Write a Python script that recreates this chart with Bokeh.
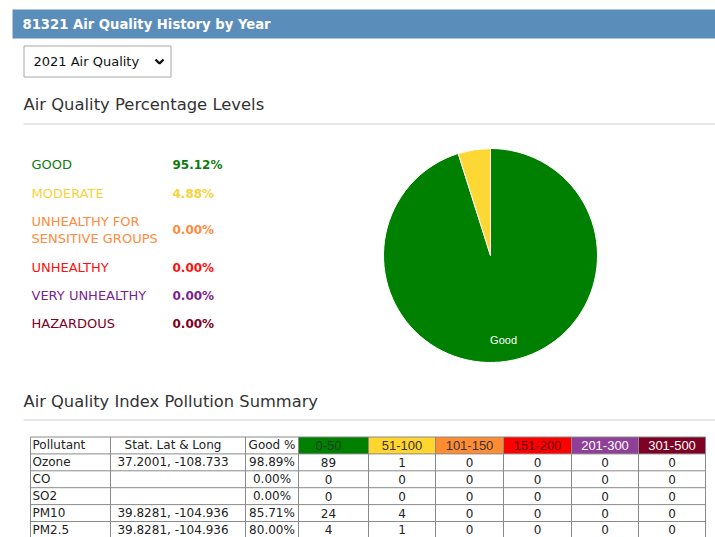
from bokeh.plotting import figure
from bokeh.models import Range1d, ColumnDataSource
from bokeh.embed import file_html
from bokeh.resources import INLINE
from bokeh.core.properties import value
import numpy as np

# ---------------------------------------------------------------- data
zip_code = "81321"
year = "2021"

levels = ["GOOD", "MODERATE", "UNHEALTHY FOR|SENSITIVE GROUPS",
          "UNHEALTHY", "VERY UNHEALTHY", "HAZARDOUS"]
level_pct = [95.12, 4.88, 0.00, 0.00, 0.00, 0.00]
level_names = ["Good", "Moderate", "Unhealthy for Sensitive Groups",
               "Unhealthy", "Very Unhealthy", "Hazardous"]
level_colors = ["#0f7a0f", "#f7d33a", "#ff8b3d", "#ff1010", "#7d1f8c", "#7e0023"]
pie_colors = ["#008000", "#fdd835", "#ff8c33", "#ff0000", "#8f3f97", "#7e0023"]

pollutants = ["Ozone", "CO", "SO2", "PM10", "PM2.5"]
locations = ["37.2001, -108.733", "", "", "39.8281, -104.936", "39.8281, -104.936"]
aqi_ranges = ["0-50", "51-100", "101-150", "151-200", "201-300", "301-500"]
range_colors = ["#008000", "#ffd52e", "#ff8c33", "#ff0000", "#8f3f97", "#7e0023"]
range_text = ["#1f3d1f", "#333333", "#333333", "#5a0000", "#ffffff", "#ffffff"]

days_0_50 = [89, 0, 0, 24, 4]
days_51_100 = [1, 0, 0, 4, 1]
days_101_150 = [0, 0, 0, 0, 0]
days_151_200 = [0, 0, 0, 0, 0]
days_201_300 = [0, 0, 0, 0, 0]
days_301_500 = [0, 0, 0, 0, 0]

# ---------------------------------------------------------------- canvas
W, H = 715, 537
FONT = "DejaVu Sans"


def Y(py):
    """Page y (downwards) -> plot y (upwards)."""
    return H - np.asarray(py, dtype=float)


p = figure(width=W, height=H, output_backend="svg", toolbar_location=None,
           x_range=Range1d(0, W), y_range=Range1d(0, H),
           x_axis_location=None, y_axis_location=None,
           min_border=0, outline_line_color=None, background_fill_color="white",
           border_fill_color="white")
p.grid.visible = False


def txt(x, y, s, size, color="#333333", align="left", bold=False, font=FONT):
    p.text(x=[x], y=[float(Y(y))], text=[s], text_font=value(font),
           text_font_size=f"{size}px", text_color=color, text_align=align,
           text_baseline="middle", text_font_style="bold" if bold else "normal")


# ---------------------------------------------------------------- title bar
p.quad(left=12, right=W, top=float(Y(9)), bottom=float(Y(38)),
       fill_color="#5b8dbb", line_color=None)
txt(22, 24, f"{zip_code} Air Quality History by Year", 13.2, "white", bold=True)

# year selector
p.quad(left=23.5, right=170.5, top=float(Y(45.5)), bottom=float(Y(76.5)),
       fill_color="white", line_color="#a8a8a8", line_width=1)
txt(33, 61, f"{year} Air Quality", 13, "#111111")
p.line(x=[155, 159, 163], y=list(Y([59, 63, 59])), line_color="#111111",
       line_width=2.4)

# ---------------------------------------------------------------- levels
txt(23, 104, "Air Quality Percentage Levels", 16.4, "#333333")
p.segment(x0=23, y0=float(Y(123.5)), x1=W, y1=float(Y(123.5)),
          line_color="#d0d0d0", line_width=1)

row_y = [164, 193, 229.5, 267, 295, 323]
for name, pct, col, yy in zip(levels, level_pct, level_colors, row_y):
    parts = name.split("|")
    if len(parts) == 1:
        txt(31, yy, parts[0], 13, col)
    else:
        txt(31, yy - 8.5, parts[0], 13, col)
        txt(31, yy + 8.5, parts[1], 13, col)
    txt(172, yy, f"{pct:.2f}%", 12, col, bold=True)

# pie: clockwise from 12 o'clock
cx, cy, r = 490, 255, 107
frac = np.array(level_pct) / np.sum(level_pct)
keep = frac > 0
cum = np.concatenate([[0], np.cumsum(frac)])
start = np.pi / 2 - cum[:-1] * 2 * np.pi
end = np.pi / 2 - cum[1:] * 2 * np.pi
pie = ColumnDataSource(dict(start=start[keep], end=end[keep],
                            color=np.array(pie_colors)[keep]))
p.wedge(x=cx, y=float(Y(cy)), radius=r, start_angle="start", end_angle="end",
        direction="clock", fill_color="color", line_color="white",
        line_width=1, source=pie)

mid = np.pi / 2 - (cum[:-1] + frac / 2) * 2 * np.pi
for f, m, nm in zip(frac, mid, level_names):
    if f >= 0.05:
        lx = cx + 0.8 * r * np.cos(m)
        ly = float(Y(cy)) + 0.8 * r * np.sin(m)
        p.text(x=[lx], y=[ly], text=[nm], text_font=value("Liberation Sans"),
               text_font_size="11px", text_color="white", text_align="center",
               text_baseline="middle")

# ---------------------------------------------------------------- table
txt(23, 401, "Air Quality Index Pollution Summary", 16.3, "#333333")
p.segment(x0=23, y0=float(Y(419.5)), x1=W, y1=float(Y(419.5)),
          line_color="#d0d0d0", line_width=1)

col_x = [30, 110, 245, 298, 368, 435, 503, 571, 638, 705]
top, rh = 436.5, 16.9
n_rows = len(pollutants) + 1
row_edges = [top + i * rh for i in range(n_rows + 1)]

# coloured range headers
p.quad(left=col_x[3:-1], right=col_x[4:], top=[float(Y(top))] * 6,
       bottom=[float(Y(top + rh))] * 6, fill_color=range_colors, line_color=None)

# grid
for yy in row_edges:
    p.segment(x0=col_x[0], y0=float(Y(yy)), x1=col_x[-1], y1=float(Y(yy)),
              line_color="#8a8a8a", line_width=1)
for xx in col_x:
    p.segment(x0=xx, y0=float(Y(top)), x1=xx, y1=float(Y(row_edges[-1])),
              line_color="#8a8a8a", line_width=1)

# text anchors inside each column
centers = [(a + b) / 2 for a, b in zip(col_x[:-1], col_x[1:])]
centers[1] -= 5
centers[3] -= 5
hy = top + rh / 2
txt(col_x[0] + 2, hy, "Pollutant", 12, "#222222")
txt(centers[1], hy, "Stat. Lat & Long", 12, "#222222", align="center")
txt(centers[2], hy, "Good %", 12, "#222222", align="center")
for c, lab, tc in zip(centers[3:], aqi_ranges, range_text):
    txt(c, hy, lab, 13, tc, align="center", font="Liberation Sans")

day_cols = [days_0_50, days_51_100, days_101_150, days_151_200,
            days_201_300, days_301_500]
for i, (pol, loc) in enumerate(zip(pollutants, locations)):
    yy = top + (i + 1.5) * rh
    counts = [col[i] for col in day_cols]
    total = sum(counts)
    good = 100 * counts[0] / total if total else 0.0
    txt(col_x[0] + 2, yy, pol, 12, "#222222")
    txt(centers[1], yy, loc, 12, "#222222", align="center")
    txt(centers[2], yy, f"{good:.2f}%", 12, "#222222", align="center")
    for c, n in zip(centers[3:], counts):
        txt(c, yy, str(n), 12, "#222222", align="center")

open("out.html", "w").write(file_html(p, INLINE))
